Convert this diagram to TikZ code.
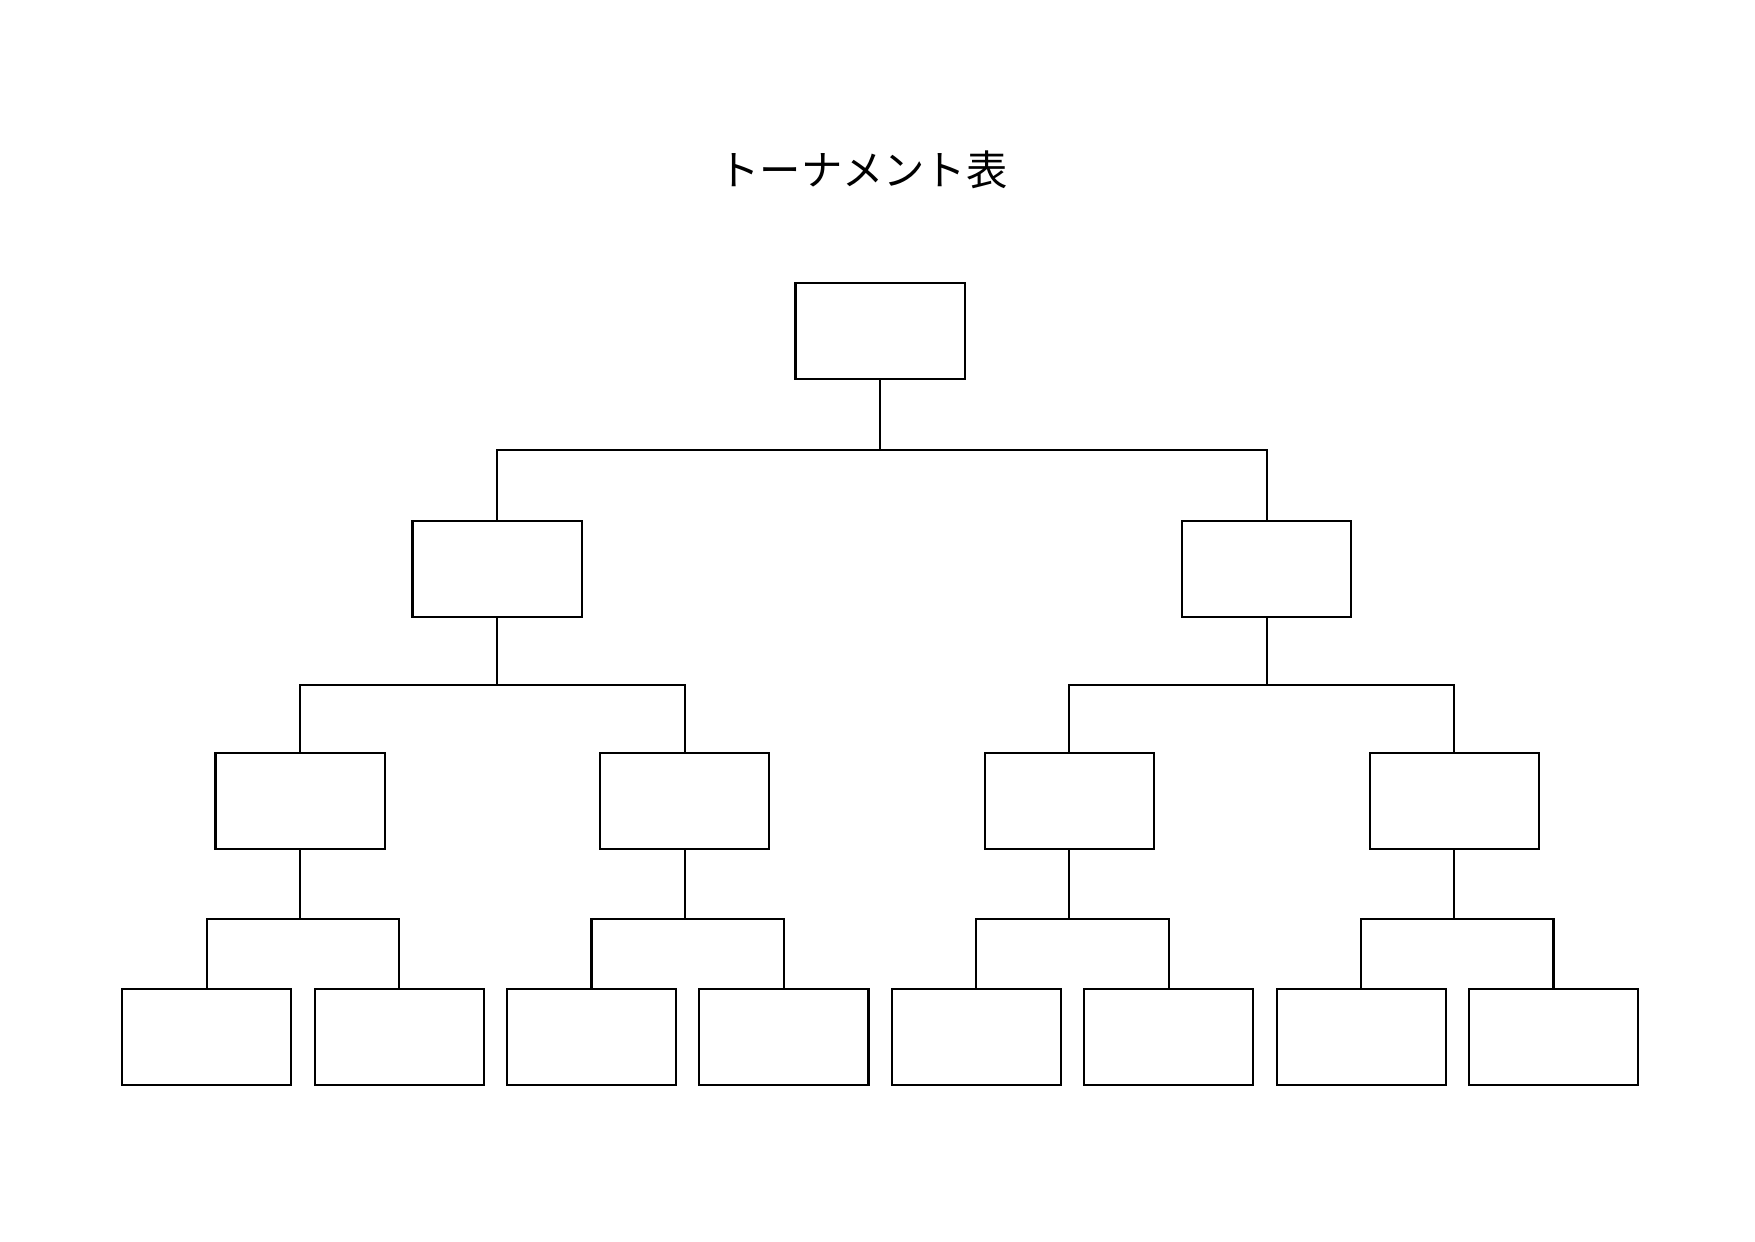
\documentclass[tikz,border=0pt]{standalone}
\usepackage{fontspec}
\newfontfamily\jpfont{Noto Sans CJK JP}
\begin{document}
\begin{tikzpicture}[x=0.01cm,y=-0.01cm,
  box/.style={draw=black,line width=0.6pt,rectangle,minimum width=1.69cm,minimum height=0.96cm,inner sep=0pt,outer sep=0pt},
  conn/.style={draw=black,line width=0.6pt}]
\useasboundingbox (0,0) rectangle (1755,1241);
\node[font=\jpfont\fontsize{11.75pt}{13pt}\selectfont] (title) at (863,170) {トーナメント表};
% final
\node[box] (f) at (880,331) {};
% semifinals
\node[box] (s1) at (497,569) {};
\node[box] (s2) at (1266.8,569) {};
% quarterfinals
\node[box] (q1) at (300,801) {};
\node[box] (q2) at (684.7,801) {};
\node[box] (q3) at (1069.4,801) {};
\node[box] (q4) at (1454.1,801) {};
% first round
\node[box] (l1) at (206.7,1037) {};
\node[box] (l2) at (399.1,1037) {};
\node[box] (l3) at (591.5,1037) {};
\node[box] (l4) at (783.9,1037) {};
\node[box] (l5) at (976.3,1037) {};
\node[box] (l6) at (1168.7,1037) {};
\node[box] (l7) at (1361.1,1037) {};
\node[box] (l8) at (1553.5,1037) {};
% bar levels
\coordinate (ya) at (0,450.3);
\coordinate (yb) at (0,685);
\coordinate (yc) at (0,918.8);
% final connectors
\draw[conn] (f.south) -- (f.south |- ya);
\draw[conn] (s1.north) -- (s1.north |- ya) -- (s2.north |- ya) -- (s2.north);
% semifinal connectors
\draw[conn] (s1.south) -- (s1.south |- yb);
\draw[conn] (q1.north) -- (q1.north |- yb) -- (q2.north |- yb) -- (q2.north);
\draw[conn] (s2.south) -- (s2.south |- yb);
\draw[conn] (q3.north) -- (q3.north |- yb) -- (q4.north |- yb) -- (q4.north);
% quarterfinal connectors
\draw[conn] (q1.south) -- (q1.south |- yc);
\draw[conn] (l1.north) -- (l1.north |- yc) -- (l2.north |- yc) -- (l2.north);
\draw[conn] (q2.south) -- (q2.south |- yc);
\draw[conn] (l3.north) -- (l3.north |- yc) -- (l4.north |- yc) -- (l4.north);
\draw[conn] (q3.south) -- (q3.south |- yc);
\draw[conn] (l5.north) -- (l5.north |- yc) -- (l6.north |- yc) -- (l6.north);
\draw[conn] (q4.south) -- (q4.south |- yc);
\draw[conn] (l7.north) -- (l7.north |- yc) -- (l8.north |- yc) -- (l8.north);
\end{tikzpicture}
\end{document}
